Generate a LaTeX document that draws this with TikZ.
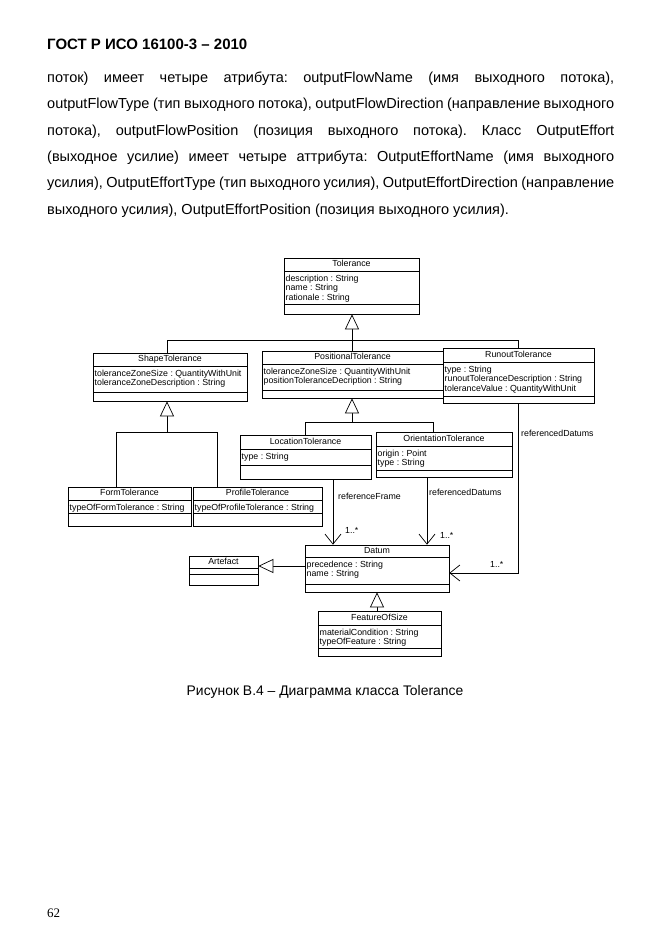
\documentclass[tikz,border=0pt]{standalone}
\usepackage{fontspec}
\setmainfont{Liberation Sans}
\newfontfamily\serifpn{Liberation Serif}
\usetikzlibrary{arrows.meta,fit}
\frenchspacing
\tikzset{
  cls/.style={draw, line width=0.7pt, inner sep=0pt},
  ttl/.style={font=\fontsize{8.8}{9.8}\selectfont, inner sep=0pt, text height=6.3pt, text depth=1.6pt},
  att/.style={font=\fontsize{8.8}{9.7}\selectfont, inner sep=0pt, align=left, anchor=north west},
  lnk/.style={line width=0.7pt},
  gen/.style={lnk, -{Triangle[open, length=15pt, width=14pt, fill=white]}},
  asc/.style={lnk, -{Straight Barb[length=10pt, width=16pt]}},
  lbl/.style={font=\fontsize{8.8}{9.8}\selectfont, inner sep=0pt, anchor=base west},
  body/.style={font=\fontsize{14.5}{16}\selectfont, inner sep=0pt, anchor=base west},
}
\newcommand\umlclass[9]{%
  \node[cls, fit={(#2,#3) (#4,#5)}] (#1) {};
  \draw[lnk] (#2,#6) -- (#4,#6);
  \draw[lnk] (#2,#7) -- (#4,#7);
  \node[ttl] (#1-t) at ({(#2+#4)/2},{(#3+#6)/2}) {#8};
  \node[att] (#1-a) at ({#2+1.5},{#6+3.5}) {#9};
}
\begin{document}
\begin{tikzpicture}[x=1pt,y=-1pt]
\fill[white] (0,0) rectangle (661,936);
\useasboundingbox (0,0) rectangle (661,936);

% header and body text
\node[body, font=\bfseries\fontsize{15}{17}\selectfont] (hdr) at (47,50) {ГОСТ Р ИСО 16100-3 – 2010};
\node[body] (l1) at (47,83) {\makebox[567pt][s]{поток) имеет четыре атрибута: outputFlowName (имя выходного потока),}};
\node[body] (l2) at (47,109) {\makebox[567pt][s]{outputFlowType (тип выходного потока), outputFlowDirection (направление выходного}};
\node[body] (l3) at (47,136) {\makebox[567pt][s]{потока), outputFlowPosition (позиция выходного потока). Класс OutputEffort}};
\node[body] (l4) at (47,162) {\makebox[567pt][s]{(выходное усилие) имеет четыре аттрибута: OutputEffortName (имя выходного}};
\node[body] (l5) at (47,188) {\makebox[567pt][s]{усилия), OutputEffortType (тип выходного усилия), OutputEffortDirection (направление}};
\node[body] (l6) at (47,214) {выходного усилия), OutputEffortPosition (позиция выходного усилия).};

% classes
\umlclass{tolerance}{284}{258}{419}{314}{271}{304}{Tolerance}{description : String\\name : String\\rationale : String}
\umlclass{shape}{93}{353}{247}{401}{366}{392}{ShapeTolerance}{toleranceZoneSize : QuantityWithUnit\\toleranceZoneDescription : String}
\umlclass{positional}{262}{351}{443}{398}{364}{390}{PositionalTolerance}{toleranceZoneSize : QuantityWithUnit\\positionToleranceDecription : String}
\umlclass{runout}{443}{348}{594}{403}{362}{396}{RunoutTolerance}{type : String\\runoutToleranceDescription : String\\toleranceValue : QuantityWithUnit}
\umlclass{form}{68}{487}{191}{526}{500}{513}{FormTolerance}{typeOfFormTolerance : String}
\umlclass{profile}{193}{487}{322}{526}{500}{513}{ProfileTolerance}{typeOfProfileTolerance : String}
\umlclass{location}{240}{435}{371}{479}{449}{465}{LocationTolerance}{type : String}
\umlclass{orientation}{376}{432}{512}{477}{446}{470}{OrientationTolerance}{origin : Point\\type : String}
\umlclass{datum}{305}{545}{449}{592}{557}{584}{Datum}{precedence : String\\name : String}
\umlclass{feature}{318}{611}{441}{656}{625}{648}{FeatureOfSize}{materialCondition : String\\typeOfFeature : String}
\umlclass{artefact}{189}{556}{258}{585}{568}{574}{Artefact}{}

% generalisation: Tolerance
\coordinate (jt) at (352,340);
\coordinate (js) at (167,340);
\coordinate (jr) at (518,340);
\draw[lnk] (js) -- (jr);
\draw[lnk] (js) -- (js |- shape.north);
\draw[lnk] (jr) -- (jr |- runout.north);
\draw[lnk] (jt) -- (jt |- positional.north);
\draw[gen] (jt) -- (jt |- tolerance.south);

% generalisation: ShapeTolerance
\coordinate (ks) at (167,432);
\coordinate (kf) at (116,432);
\coordinate (kp) at (217,432);
\draw[lnk] (kf) -- (kp);
\draw[lnk] (kf) -- (kf |- form.north);
\draw[lnk] (kp) -- (kp |- profile.north);
\draw[gen] (ks) -- (ks |- shape.south);

% generalisation: PositionalTolerance
\coordinate (mp) at (352,422);
\coordinate (ml) at (305,422);
\coordinate (mo) at (433,422);
\draw[lnk] (ml) -- (mo);
\draw[lnk] (ml) -- (ml |- location.north);
\draw[lnk] (mo) -- (mo |- orientation.north);
\draw[gen] (mp) -- (mp |- positional.south);

% generalisation: Datum
\coordinate (xf) at (377,0);
\draw[gen] (feature.north -| xf) -- (datum.south -| xf);
\coordinate (ya) at (0,566);
\draw[gen] (datum.west |- ya) -- (artefact.east |- ya);

% associations
\coordinate (xl) at (333,0);
\coordinate (xo) at (427,0);
\coordinate (bend) at (518,573);
\draw[asc] (location.south -| xl) -- (datum.north -| xl);
\draw[asc] (orientation.south -| xo) -- (datum.north -| xo);
\draw[asc] (runout.south -| bend) -- (bend) -- (bend -| datum.east);

\node[lbl] (lbr) at (521,436) {referencedDatums};
\node[lbl] (lbf) at (338,499) {referenceFrame};
\node[lbl] (lbo) at (429,495) {referencedDatums};
\node[lbl] (m1) at (345,533) {1..*};
\node[lbl] (m2) at (440,538) {1..*};
\node[lbl] (m3) at (490,567) {1..*};

% caption and page number
\node[body, anchor=base, font=\fontsize{13.9}{16}\selectfont] (cap) at (325,695) {Рисунок В.4 – Диаграмма класса Tolerance};
\node[body, font=\serifpn\fontsize{13}{15}\selectfont] (pg) at (47,917) {62};
\end{tikzpicture}
\end{document}
